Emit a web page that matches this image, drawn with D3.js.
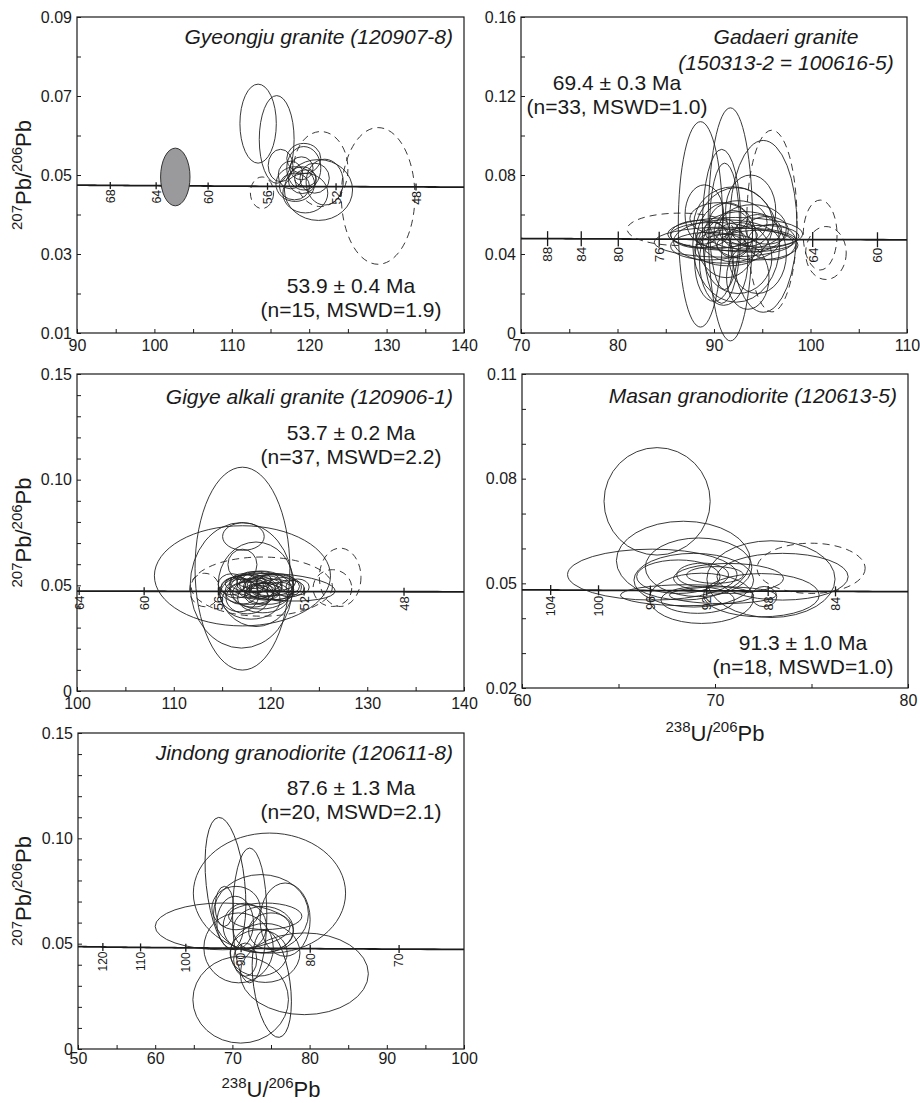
<!DOCTYPE html>
<html>
<head>
<meta charset="utf-8">
<script src="https://cdn.jsdelivr.net/npm/d3@7"></script>
<style>
  body { margin: 0; background: #fff; }
  svg text { font-family: "Liberation Sans", Arial, sans-serif; fill: #1a1a1a; }
</style>
</head>
<body>
<svg id="chart" width="920" height="1103"></svg>
<script>
// ---------------------------------------------------------------
// Spot analyses: [238U/206Pb, 207Pb/206Pb, half-width, half-height, rotation (deg), dashed]
// dashed = analysis excluded from the weighted mean age
// ---------------------------------------------------------------
const gyeongjuSpots = [
  [113.4, 0.0630, 2.35, 0.0100, 0, 0],
  [115.8, 0.0590, 2.25, 0.0111, 0, 0],
  [121.2, 0.0462, 4.40, 0.0077, 0, 0],
  [116.3, 0.0524, 1.60, 0.0041, 0, 0],
  [119.3, 0.0542, 2.20, 0.0038, 0, 0],
  [119.3, 0.0517, 2.20, 0.0055, 0, 0],
  [118.2, 0.0477, 2.50, 0.0044, 0, 0],
  [119.5, 0.0454, 2.90, 0.0050, 0, 0],
  [122.0, 0.0482, 2.40, 0.0058, 0, 0],
  [119.1, 0.0487, 1.80, 0.0034, 0, 0],
  [119.5, 0.0492, 1.40, 0.0021, 0, 0],
  [119.0, 0.0517, 1.50, 0.0029, 0, 0],
  [118.1, 0.0471, 1.95, 0.0034, 0, 0],
  [120.7, 0.0492, 1.90, 0.0038, 0, 0],
  [117.6, 0.0500, 1.60, 0.0035, 0, 0],
  [128.9, 0.0447, 4.75, 0.0173, 0, 1],
  [121.5, 0.0515, 3.50, 0.0095, 0, 1],
  [113.9, 0.0455, 1.50, 0.0040, 0, 1]
];
// inherited grain (filled)
const gyeongjuInherited = [
  [102.7, 0.0495, 1.90, 0.0073, 0, 0]
];

const gadaeriSpots = [
  [91.7, 0.0550, 2.30, 0.0590, 0, 0],
  [88.6, 0.0550, 2.30, 0.0520, 0, 0],
  [95.1, 0.0540, 3.50, 0.0435, 0, 0],
  [96.0, 0.0567, 2.60, 0.0460, 0, 1],
  [90.8, 0.0540, 2.00, 0.0390, 0, 0],
  [91.1, 0.0540, 1.55, 0.0320, 0, 0],
  [92.0, 0.0550, 4.10, 0.0190, 0, 0],
  [91.3, 0.0470, 3.10, 0.0190, 0, 0],
  [91.0, 0.0460, 7.20, 0.0076, 0, 0],
  [92.2, 0.0501, 7.00, 0.0084, 0, 0],
  [86.5, 0.0525, 5.50, 0.0082, 0, 1],
  [91.3, 0.0463, 5.50, 0.0110, 0, 0],
  [93.5, 0.0470, 5.00, 0.0060, 0, 0],
  [90.0, 0.0495, 4.50, 0.0065, 0, 0],
  [94.5, 0.0445, 4.20, 0.0075, 0, 0],
  [89.5, 0.0440, 4.00, 0.0070, 0, 0],
  [93.0, 0.0520, 4.00, 0.0095, 0, 0],
  [95.0, 0.0490, 3.80, 0.0055, 0, 0],
  [91.5, 0.0420, 3.50, 0.0080, 0, 0],
  [92.5, 0.0560, 3.00, 0.0110, 0, 0],
  [90.5, 0.0580, 3.00, 0.0080, 0, 0],
  [94.0, 0.0530, 3.50, 0.0120, 0, 0],
  [96.0, 0.0460, 2.50, 0.0090, 0, 0],
  [92.3, 0.0446, 4.50, 0.0290, 0, 0],
  [92.5, 0.0380, 3.50, 0.0180, 0, 0],
  [91.0, 0.0360, 2.50, 0.0220, 0, 0],
  [94.5, 0.0400, 3.00, 0.0200, 0, 0],
  [93.5, 0.0280, 2.20, 0.0160, 0, 0],
  [90.0, 0.0360, 2.00, 0.0200, 0, 0],
  [89.0, 0.0600, 2.00, 0.0150, 0, 0],
  [93.8, 0.0620, 2.60, 0.0180, 0, 0],
  [92.0, 0.0500, 2.00, 0.0120, 0, 0],
  [90.7, 0.0480, 2.60, 0.0050, 0, 0],
  [95.5, 0.0520, 2.20, 0.0070, 0, 0],
  [88.5, 0.0500, 3.00, 0.0070, 0, 0],
  [101.0, 0.0496, 1.75, 0.0177, 0, 1],
  [101.6, 0.0405, 2.10, 0.0134, 0, 1]
];

const gigyeSpots = [
  [117.1, 0.0579, 4.90, 0.0480, 0, 0],
  [117.1, 0.0545, 9.10, 0.0237, 0, 0],
  [117.2, 0.0731, 2.15, 0.0065, 0, 0],
  [118.5, 0.0505, 3.90, 0.0200, 0, 0],
  [117.1, 0.0598, 1.50, 0.0073, 0, 0],
  [117.0, 0.0500, 5.30, 0.0297, 0, 0],
  [121.0, 0.0491, 5.70, 0.0063, 4, 0],
  [116.5, 0.0490, 1.60, 0.0050, 0, 0],
  [117.5, 0.0495, 1.80, 0.0055, 0, 0],
  [118.5, 0.0485, 2.00, 0.0050, 0, 0],
  [119.5, 0.0490, 1.70, 0.0045, 0, 0],
  [120.5, 0.0480, 1.90, 0.0048, 0, 0],
  [118.0, 0.0510, 1.50, 0.0045, 0, 0],
  [119.0, 0.0505, 2.20, 0.0060, 0, 0],
  [120.0, 0.0500, 2.40, 0.0050, 0, 0],
  [117.0, 0.0470, 1.70, 0.0060, 0, 0],
  [118.2, 0.0462, 2.10, 0.0065, 0, 0],
  [119.4, 0.0470, 1.60, 0.0040, 0, 0],
  [121.3, 0.0495, 1.70, 0.0042, 0, 0],
  [122.0, 0.0485, 1.50, 0.0040, 0, 0],
  [116.0, 0.0505, 1.40, 0.0050, 0, 0],
  [117.8, 0.0480, 3.00, 0.0070, 0, 0],
  [119.0, 0.0478, 3.20, 0.0090, 0, 0],
  [120.2, 0.0492, 3.00, 0.0060, 0, 0],
  [118.6, 0.0500, 1.20, 0.0035, 0, 0],
  [119.8, 0.0510, 1.30, 0.0035, 0, 0],
  [117.2, 0.0515, 1.40, 0.0040, 0, 0],
  [121.0, 0.0470, 1.40, 0.0045, 0, 0],
  [118.8, 0.0455, 1.50, 0.0045, 0, 0],
  [116.8, 0.0455, 2.00, 0.0080, 0, 0],
  [120.6, 0.0515, 2.00, 0.0040, 0, 0],
  [118.3, 0.0525, 1.80, 0.0040, 0, 0],
  [122.8, 0.0492, 1.20, 0.0038, 0, 0],
  [117.6, 0.0440, 2.20, 0.0075, 0, 0],
  [119.2, 0.0440, 2.60, 0.0070, 0, 0],
  [118.0, 0.0430, 3.00, 0.0090, 0, 0],
  [119.7, 0.0462, 2.30, 0.0052, 0, 0],
  [127.2, 0.0538, 2.15, 0.0138, 0, 1],
  [119.1, 0.0494, 7.30, 0.0140, 0, 1],
  [126.4, 0.0487, 2.00, 0.0087, 0, 1],
  [113.2, 0.0478, 1.55, 0.0079, 0, 1]
];

const masanSpots = [
  [67.00, 0.0735, 2.75, 0.0154, 0, 0],
  [68.36, 0.0565, 3.47, 0.0113, 0, 0],
  [69.15, 0.0546, 2.76, 0.0084, 0, 0],
  [66.75, 0.0525, 4.39, 0.0073, 0, 0],
  [72.90, 0.0512, 3.32, 0.0110, 0, 0],
  [73.50, 0.0519, 3.40, 0.0067, 0, 0],
  [68.55, 0.0466, 3.45, 0.0030, 0, 0],
  [68.90, 0.0509, 3.10, 0.0077, 0, 0],
  [69.30, 0.0457, 2.70, 0.0072, 0, 0],
  [70.70, 0.0514, 2.85, 0.0043, 0, 0],
  [69.36, 0.0524, 1.34, 0.0034, 0, 0],
  [70.00, 0.0524, 1.47, 0.0024, 0, 0],
  [72.40, 0.0466, 3.00, 0.0062, 0, 0],
  [69.10, 0.0452, 1.90, 0.0038, 0, 0],
  [70.40, 0.0466, 2.76, 0.0024, 0, 0],
  [68.10, 0.0519, 2.16, 0.0048, 0, 0],
  [72.55, 0.0462, 0.65, 0.0029, 0, 0],
  [74.98, 0.0543, 2.80, 0.0072, 0, 1]
];

const jindongSpots = [
  [69.10, 0.0786, 2.50, 0.0315, -6, 0],
  [74.80, 0.0740, 9.86, 0.0285, 0, 0],
  [68.74, 0.0582, 8.74, 0.0111, 0, 0],
  [71.07, 0.0234, 6.19, 0.0206, 0, 0],
  [79.31, 0.0357, 8.30, 0.0194, 0, 0],
  [75.10, 0.0310, 2.37, 0.0257, -8, 0],
  [72.24, 0.0634, 2.22, 0.0320, 0, 0],
  [73.70, 0.0642, 6.15, 0.0186, 0, 0],
  [68.96, 0.0677, 1.19, 0.0095, 0, 0],
  [74.25, 0.0630, 4.75, 0.0063, 0, 0],
  [70.36, 0.0598, 2.37, 0.0127, 0, 0],
  [75.00, 0.0559, 2.90, 0.0087, 0, 0],
  [70.80, 0.0480, 4.50, 0.0166, 0, 0],
  [74.25, 0.0456, 4.50, 0.0140, 0, 0],
  [71.66, 0.0424, 1.50, 0.0079, 0, 0],
  [76.83, 0.0614, 3.24, 0.0174, 0, 0],
  [74.00, 0.0567, 3.90, 0.0110, 0, 0],
  [71.60, 0.0582, 2.80, 0.0110, 0, 0],
  [73.40, 0.0456, 3.70, 0.0110, 0, 0],
  [70.47, 0.0669, 3.13, 0.0103, 0, 0]
];

// Concordia age marks (Ma)
const gyeongjuAges = [68, 64, 60, 56, 52, 48];
const gadaeriAges  = [88, 84, 80, 76, 64, 60];
const gigyeAges    = [64, 60, 56, 52, 48];
const masanAges    = [104, 100, 96, 92, 88, 84];
const jindongAges  = [120, 110, 100, 90, 80, 70];

// Axis ranges and labelled ticks
const gyeongjuX = [90, 140],  gyeongjuXTicks = [90, 100, 110, 120, 130, 140];
const gyeongjuY = [0.01, 0.09], gyeongjuYTicks = [0.01, 0.03, 0.05, 0.07, 0.09];
const gadaeriX = [70, 110],   gadaeriXTicks = [70, 80, 90, 100, 110];
const gadaeriY = [0, 0.16],   gadaeriYTicks = [0, 0.04, 0.08, 0.12, 0.16];
const gigyeX = [100, 140],    gigyeXTicks = [100, 110, 120, 130, 140];
const gigyeY = [0, 0.15],     gigyeYTicks = [0, 0.05, 0.10, 0.15];
const masanX = [60, 80],      masanXTicks = [60, 70, 80];
const masanY = [0.02, 0.11],  masanYTicks = [0.02, 0.05, 0.08, 0.11];
const jindongX = [50, 100],   jindongXTicks = [50, 60, 70, 80, 90, 100];
const jindongY = [0, 0.15],   jindongYTicks = [0, 0.05, 0.10, 0.15];

// Sample names and weighted mean ages
const gyeongjuTitle = ["Gyeongju granite (120907-8)"];
const gyeongjuAge   = ["53.9 \u00b1 0.4 Ma", "(n=15, MSWD=1.9)"];
const gadaeriTitle  = ["Gadaeri granite", "(150313-2 = 100616-5)"];
const gadaeriAge    = ["69.4 \u00b1 0.3 Ma", "(n=33, MSWD=1.0)"];
const gigyeTitle    = ["Gigye alkali granite (120906-1)"];
const gigyeAge      = ["53.7 \u00b1 0.2 Ma", "(n=37, MSWD=2.2)"];
const masanTitle    = ["Masan granodiorite (120613-5)"];
const masanAge      = ["91.3 \u00b1 1.0 Ma", "(n=18, MSWD=1.0)"];
const jindongTitle  = ["Jindong granodiorite (120611-8)"];
const jindongAge    = ["87.6 \u00b1 1.3 Ma", "(n=20, MSWD=2.1)"];

// ---------------------------------------------------------------
// Tera–Wasserburg concordia (decay constants in 1/yr)
// ---------------------------------------------------------------
const L238 = 1.55125e-10, L235 = 9.8485e-10, U85 = 137.88;
const twX = t => 1 / Math.expm1(L238 * t * 1e6);
const twY = t => Math.expm1(L235 * t * 1e6) / Math.expm1(L238 * t * 1e6) / U85;
const ageAtX = x => Math.log1p(1 / x) / L238 / 1e6;

const INK = "#1a1a1a";
const svg = d3.select("#chart");
svg.append("rect").attr("width", 920).attr("height", 1103).attr("fill", "#fff");

const panels = [
  { box: [77, 17, 464, 333], xd: gyeongjuX, yd: gyeongjuY, xt: gyeongjuXTicks, yt: gyeongjuYTicks,
    yMinor: 0.01, spots: gyeongjuSpots, filled: gyeongjuInherited, ages: gyeongjuAges,
    title: gyeongjuTitle, titlePos: [453, 37, "end"], age: gyeongjuAge, agePos: [351, 286],
    tickHalf: 3.5, ageFont: 12.5, xPad: 7, yLabel: true },
  { box: [521, 17, 907, 333], xd: gadaeriX, yd: gadaeriY, xt: gadaeriXTicks, yt: gadaeriYTicks,
    yMinor: 0.02, spots: gadaeriSpots, filled: [], ages: gadaeriAges,
    title: gadaeriTitle, titlePos: [786, 37, "middle"], age: gadaeriAge, agePos: [617, 83],
    tickHalf: 7.5, ageFont: 13.5, xPad: 7, yLabel: false },
  { box: [77, 374, 464, 691], xd: gigyeX, yd: gigyeY, xt: gigyeXTicks, yt: gigyeYTicks,
    yMinor: 0.01, spots: gigyeSpots, filled: [], ages: gigyeAges,
    title: gigyeTitle, titlePos: [453, 397, "end"], age: gigyeAge, agePos: [351, 433],
    tickHalf: 4, ageFont: 13, xPad: 7, yLabel: true },
  { box: [522, 374, 908, 688], xd: masanX, yd: masanY, xt: masanXTicks, yt: masanYTicks,
    yMinor: 0.01, spots: masanSpots, filled: [], ages: masanAges,
    title: masanTitle, titlePos: [897, 396, "end"], age: masanAge, agePos: [803, 643],
    tickHalf: 5, ageFont: 12.5, xPad: 7, yLabel: false, xLabel: 741 },
  { box: [78, 733, 464, 1049], xd: jindongX, yd: jindongY, xt: jindongXTicks, yt: jindongYTicks,
    yMinor: 0.01, spots: jindongSpots, filled: [], ages: jindongAges,
    title: jindongTitle, titlePos: [453, 753, "end"], age: jindongAge, agePos: [351, 788],
    tickHalf: 4, ageFont: 12, xPad: 4, yLabel: true, xLabel: 1097 }
];

const fmtY = d => d === 0 ? "0" : d3.format(".2f")(d);

function ratioLabel(sel, parts, big, small) {
  // parts: [[superscript mass number, element text], ...]
  parts.forEach(([sup, main]) => {
    sel.append("tspan").attr("font-size", small).attr("dy", -0.42 * big).text(sup);
    sel.append("tspan").attr("font-size", big).attr("dy", 0.42 * big).text(main);
  });
}

panels.forEach(p => {
  const [L, T, R, B] = p.box;
  const x = d3.scaleLinear().domain(p.xd).range([L, R]);
  const y = d3.scaleLinear().domain(p.yd).range([B, T]);
  const g = svg.append("g");

  // minor (unlabelled) ticks, drawn inward
  const xMinor = d3.range(p.xd[0], p.xd[1] + 1e-9, 5);
  const yMinor = d3.range(p.yd[0], p.yd[1] + 1e-9, p.yMinor);
  const ax = g.append("g").attr("transform", `translate(0,${B})`)
    .call(d3.axisBottom(x).tickValues(xMinor).tickSize(-4).tickFormat(""));
  const ay = g.append("g").attr("transform", `translate(${L},0)`)
    .call(d3.axisLeft(y).tickValues(yMinor).tickSize(-4).tickFormat(""));
  [ax, ay].forEach(a => { a.select(".domain").remove(); a.selectAll("line").attr("stroke", INK).attr("stroke-width", 1); });

  // labelled ticks
  const lx = g.append("g").attr("transform", `translate(0,${B})`)
    .call(d3.axisBottom(x).tickValues(p.xt).tickSize(0).tickPadding(p.xPad).tickFormat(d3.format("d")));
  const ly = g.append("g").attr("transform", `translate(${L},0)`)
    .call(d3.axisLeft(y).tickValues(p.yt).tickSize(0).tickPadding(5).tickFormat(fmtY));
  [lx, ly].forEach(a => {
    a.select(".domain").remove();
    a.attr("font-family", null).attr("font-size", null);
    a.selectAll("text").attr("font-size", 16).attr("fill", INK);
  });

  // concordia curve across the plot
  const t0 = ageAtX(p.xd[1]), t1 = ageAtX(p.xd[0]);
  const ts = d3.range(0, 101).map(i => t0 + (t1 - t0) * i / 100);
  g.append("path")
    .attr("d", d3.line().x(t => x(twX(t))).y(t => y(twY(t)))(ts))
    .attr("fill", "none").attr("stroke", INK).attr("stroke-width", 1.8);

  // age marks on concordia
  p.ages.forEach(a => {
    const cx = x(twX(a)), cy = y(twY(a));
    g.append("line").attr("x1", cx).attr("x2", cx)
      .attr("y1", cy - p.tickHalf).attr("y2", cy + p.tickHalf)
      .attr("stroke", INK).attr("stroke-width", 1.3);
    g.append("text")
      .attr("transform", `translate(${cx},${cy + p.tickHalf + 0.5}) rotate(-90)`)
      .attr("text-anchor", "end").attr("dy", "0.36em")
      .attr("font-size", p.ageFont).text(a);
  });

  // error ellipses
  const drawEllipses = (rows, fill) => {
    g.selectAll(null).data(rows).enter().append("ellipse")
      .attr("cx", d => x(d[0]))
      .attr("cy", d => y(d[1]))
      .attr("rx", d => Math.abs(x(d[0] + d[2]) - x(d[0])))
      .attr("ry", d => Math.abs(y(d[1] + d[3]) - y(d[1])))
      .attr("transform", d => d[4] ? `rotate(${d[4]},${x(d[0])},${y(d[1])})` : null)
      .attr("fill", fill)
      .attr("stroke", "#222")
      .attr("stroke-width", 0.9)
      .attr("stroke-dasharray", d => d[5] ? "7,5" : null);
  };
  drawEllipses(p.spots, "none");
  if (p.filled.length) drawEllipses(p.filled, "#9a9a9c");

  // plot frame
  g.append("rect").attr("x", L).attr("y", T).attr("width", R - L).attr("height", B - T)
    .attr("fill", "none").attr("stroke", INK).attr("stroke-width", 1.2);

  // sample name
  p.title.forEach((s, i) => {
    g.append("text").attr("x", p.titlePos[0]).attr("y", p.titlePos[1] + i * 26)
      .attr("dy", "0.35em").attr("text-anchor", p.titlePos[2])
      .attr("font-size", 21).attr("font-style", "italic").text(s);
  });
  // weighted mean age
  p.age.forEach((s, i) => {
    g.append("text").attr("x", p.agePos[0]).attr("y", p.agePos[1] + i * 24)
      .attr("dy", "0.35em").attr("text-anchor", "middle")
      .attr("font-size", 21).text(s);
  });

  // axis titles
  if (p.yLabel) {
    const t = svg.append("text")
      .attr("transform", `translate(31,${(T + B) / 2}) rotate(-90)`)
      .attr("text-anchor", "middle");
    ratioLabel(t, [["207", "Pb/"], ["206", "Pb"]], 22, 15);
  }
  if (p.xLabel) {
    const t = svg.append("text")
      .attr("x", (L + R) / 2).attr("y", p.xLabel)
      .attr("text-anchor", "middle");
    ratioLabel(t, [["238", "U/"], ["206", "Pb"]], 22, 15);
  }
});
</script>
</body>
</html>
